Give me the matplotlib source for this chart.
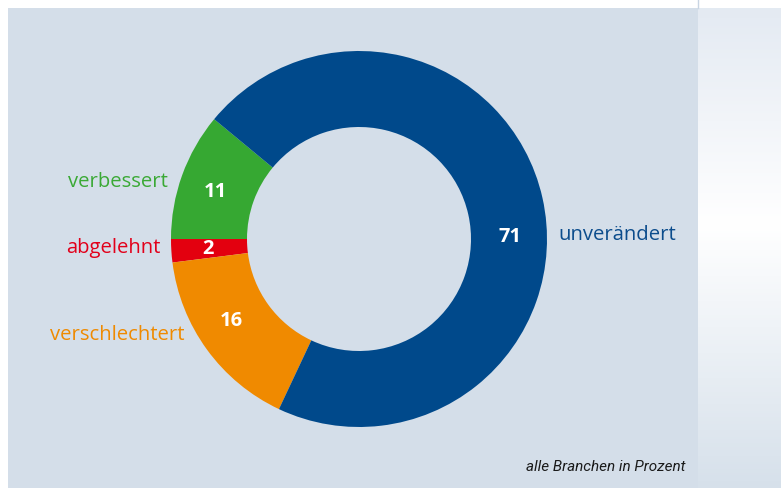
import numpy as np
import matplotlib
matplotlib.use("Agg")
import matplotlib.pyplot as plt
from matplotlib.patches import Rectangle
from matplotlib import font_manager

# data
categories = ["verbessert", "abgelehnt", "verschlechtert", "unverändert"]
values = [11, 2, 16, 71]
colors = ["#36a832", "#e3000f", "#f08a00", "#00498b"]
label_colors = ["#3aa935", "#e2001a", "#ef8a00", "#0b4c8c"]
caption = "alle Branchen in Prozent"

names = sorted(set(f.name for f in font_manager.fontManager.ttflist))
narrow = "Liberation Sans Narrow" if "Liberation Sans Narrow" in names else "Roboto"
print(narrow)
print([(f.name, f.weight, f.style) for f in font_manager.fontManager.ttflist if f.name == "Open Sans"])

W, H = 781, 488
fig = plt.figure(figsize=(W / 100, H / 100), dpi=100)
fig.patch.set_facecolor("white")
ax = fig.add_axes([0, 0, 1, 1])

cx, cy = 359, H - 239
R, width = 188, 76

wedges, _ = ax.pie(values, colors=colors, startangle=140.4, counterclock=True,
                   center=(cx, cy), radius=R,
                   wedgeprops=dict(width=width, linewidth=0))

ax.set_xlim(0, W)
ax.set_ylim(0, H)
ax.set_aspect("equal")
ax.axis("off")

# background panel
ax.add_patch(Rectangle((8, 0), 690, H - 8, facecolor="#d4dee9", edgecolor="none", zorder=-5))
# right gradient panel
t = np.linspace(0, 1, 200)
top = np.array([0.84, 0.88, 0.92])
mid = np.array([1.0, 1.0, 1.0])
bot = np.array([0.87, 0.90, 0.94])
k = np.clip(1 - np.abs(t - 0.55) / 0.55, 0, 1)[:, None]
grad = np.where(t[:, None] < 0.55, top + (mid - top) * k, bot + (mid - bot) * k)
ax.imshow(grad[:, None, :], extent=(698, W, H - 8, 0), aspect="auto", zorder=-5)
ax.plot([698, 698], [H - 8, H], color="#c9d5e3", lw=1, zorder=-4)

# labels: numbers inside the ring, names outside
num_angles = [161.5, 183.5, 212.5, 1.0]
name_angles = [163.5, 182.6, 208.7, 1.1]
for v, name, lc, a, b in zip(values, categories, label_colors, num_angles, name_angles):
    th = np.deg2rad(a)
    ax.text(cx + 151 * np.cos(th), cy + 151 * np.sin(th) - 1, str(v), color="white",
            fontsize=14.5, fontweight="bold", family="Open Sans", ha="center", va="center")
    th = np.deg2rad(b)
    ha = "left" if np.cos(th) > 0 else "right"
    ax.text(cx + 199 * np.cos(th), cy + 199 * np.sin(th), name, color=lc,
            fontsize=14.6, fontweight=500, family="Open Sans", ha=ha, va="center")

ax.text(686, H - 467, caption, fontsize=11, style="italic", family=narrow,
        ha="right", va="center", color="#1a1a1a")

fig.savefig("out.png", dpi=100, facecolor=fig.get_facecolor())
